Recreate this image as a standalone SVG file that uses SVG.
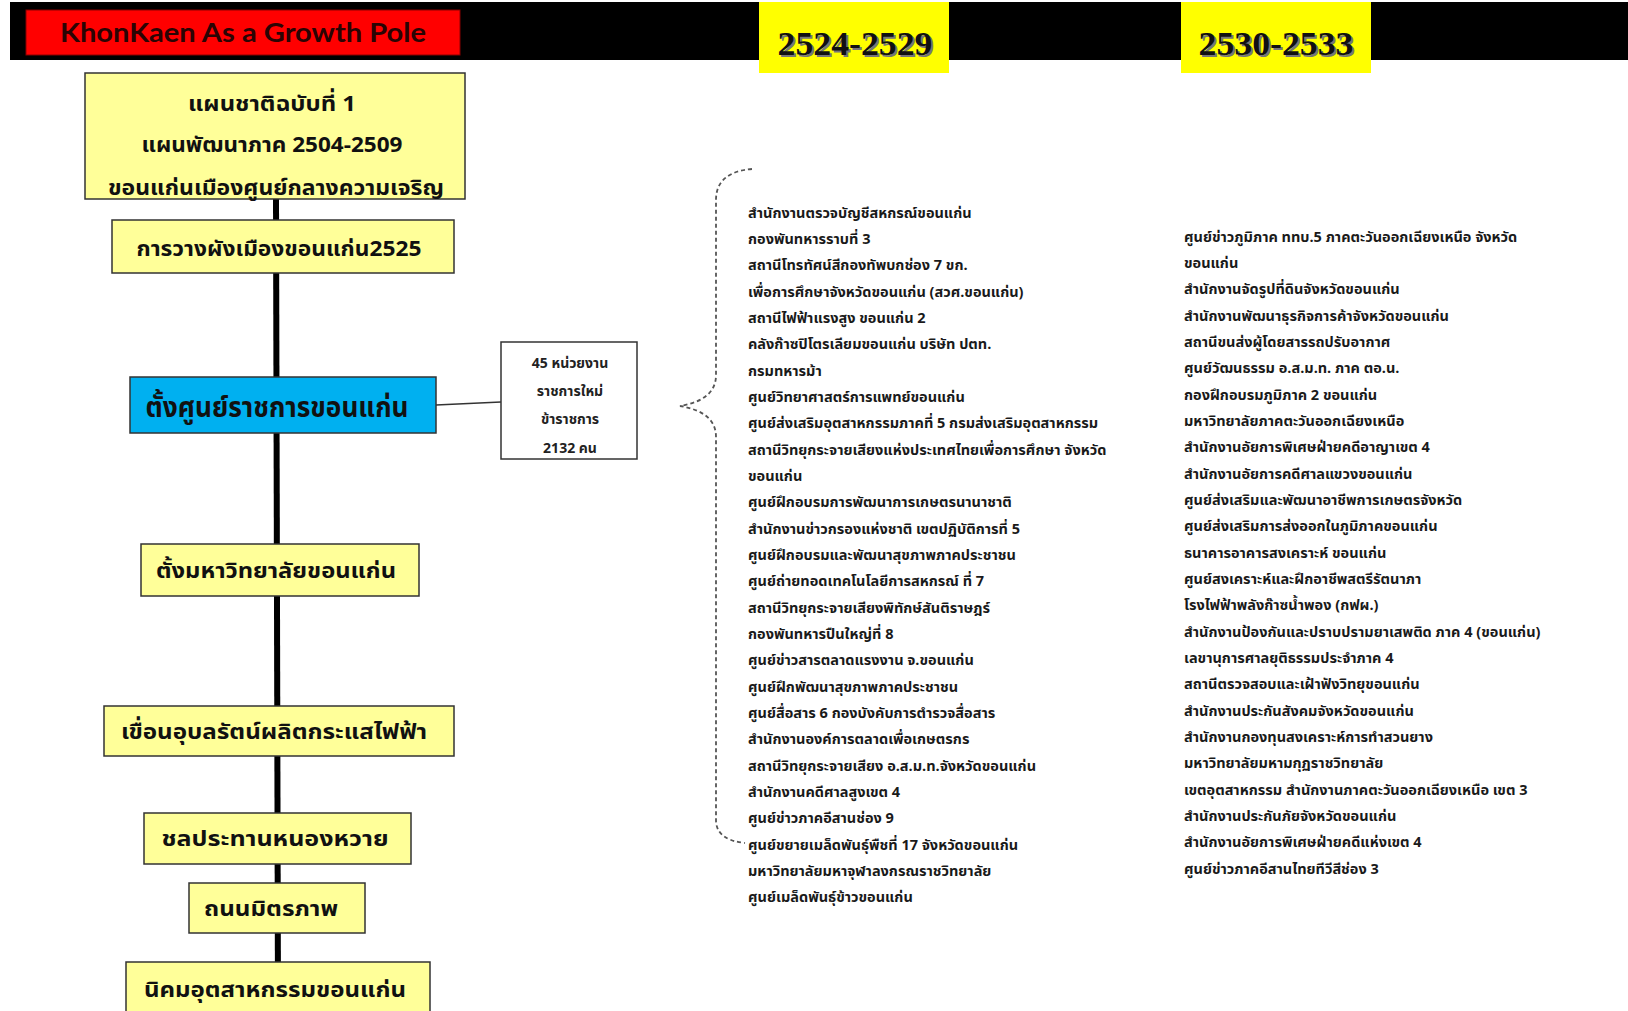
<svg xmlns="http://www.w3.org/2000/svg" width="1628" height="1011" viewBox="0 0 1628 1011">
<style>
.box{fill:#ffff99;stroke:#333;stroke-width:1.5}
.blue{fill:#00b0f0;stroke:#333;stroke-width:1.5}
.side{fill:#fff;stroke:#333;stroke-width:1.5}
.bt{font-family:"Noto Sans Thai","Noto Serif Thai","Liberation Serif",serif;font-weight:bold;font-size:22px;fill:#111;text-anchor:middle}
.st{font-family:"Noto Sans Thai","Liberation Serif",serif;font-weight:bold;font-size:14px;fill:#222;text-anchor:middle}
.lt{font-family:"Noto Sans Thai","Liberation Sans",sans-serif;font-weight:bold;font-size:14.5px;fill:#1a1a1a}
.yr{font-family:"Liberation Serif",serif;font-weight:bold;font-size:34px;text-anchor:middle}
</style>
<rect x="10" y="2" width="1618" height="58" fill="#000"/>
<g id="title">
<rect x="26" y="10" width="434" height="45" fill="#ff0000" stroke="#800" stroke-width="1"/>
<text x="243" y="42" font-family="Lato,'Open Sans',sans-serif" font-size="26" font-weight="bold" fill="#2a0404" text-anchor="middle" textLength="366" lengthAdjust="spacingAndGlyphs">KhonKaen As a Growth Pole</text>
</g>
<g id="year1">
<rect x="759" y="2" width="190" height="71" fill="#ffff00"/>
<text class="yr" x="857" y="57" fill="#777" textLength="155" lengthAdjust="spacingAndGlyphs">2524-2529</text>
<text class="yr" x="855" y="55" fill="#111" textLength="155" lengthAdjust="spacingAndGlyphs">2524-2529</text>
</g>
<g id="year2">
<rect x="1181" y="2" width="190" height="71" fill="#ffff00"/>
<text class="yr" x="1278" y="57" fill="#777" textLength="155" lengthAdjust="spacingAndGlyphs">2530-2533</text>
<text class="yr" x="1276" y="55" fill="#111" textLength="155" lengthAdjust="spacingAndGlyphs">2530-2533</text>
</g>
<g id="connectors">
<line x1="276" y1="199" x2="278" y2="1011" stroke="#000" stroke-width="6"/>
<line x1="436" y1="405" x2="501" y2="402" stroke="#333" stroke-width="1.5"/>
<path d="M752,169 Q716,172 716,200 L716,375 Q716,400 680,406 Q716,412 716,437 L716,820 Q716,840 745,843" fill="none" stroke="#555" stroke-width="1.8" stroke-dasharray="4,3"/>
</g>
<g id="n1">
<rect class="box" x="85" y="73" width="380" height="126"/>
<text class="bt" x="272" y="111" textLength="168" lengthAdjust="spacingAndGlyphs">แผนชาติฉบับที่ 1</text>
<text class="bt" x="272" y="152" textLength="261" lengthAdjust="spacingAndGlyphs">แผนพัฒนาภาค 2504-2509</text>
<text class="bt" x="276" y="195" textLength="336" lengthAdjust="spacingAndGlyphs">ขอนแก่นเมืองศูนย์กลางความเจริญ</text>
</g>
<g id="n2">
<rect class="box" x="112" y="220" width="342" height="53"/>
<text class="bt" x="279" y="256" textLength="285" lengthAdjust="spacingAndGlyphs">การวางผังเมืองขอนแก่น2525</text>
</g>
<g id="n3">
<rect class="blue" x="130" y="377" width="306" height="56"/>
<text class="bt" x="277" y="417" style="font-size:28px" textLength="263" lengthAdjust="spacingAndGlyphs">ตั้งศูนย์ราชการขอนแก่น</text>
</g>
<g id="n3side">
<rect class="side" x="501" y="342" width="136" height="117"/>
<text class="st" x="570" y="368">45 หน่วยงาน</text>
<text class="st" x="570" y="396">ราชการใหม่</text>
<text class="st" x="570" y="424">ข้าราชการ</text>
<text class="st" x="570" y="453">2132 คน</text>
</g>
<g id="n4">
<rect class="box" x="141" y="544" width="278" height="52"/>
<text class="bt" x="276" y="578" textLength="240" lengthAdjust="spacingAndGlyphs">ตั้งมหาวิทยาลัยขอนแก่น</text>
</g>
<g id="n5">
<rect class="box" x="104" y="706" width="350" height="50"/>
<text class="bt" x="274" y="739" textLength="306" lengthAdjust="spacingAndGlyphs">เขื่อนอุบลรัตน์ผลิตกระแสไฟฟ้า</text>
</g>
<g id="n6">
<rect class="box" x="144" y="813" width="267" height="51"/>
<text class="bt" x="275" y="846" textLength="227" lengthAdjust="spacingAndGlyphs">ชลประทานหนองหวาย</text>
</g>
<g id="n7">
<rect class="box" x="189" y="883" width="176" height="50"/>
<text class="bt" x="271" y="916" textLength="134" lengthAdjust="spacingAndGlyphs">ถนนมิตรภาพ</text>
</g>
<g id="n8">
<rect class="box" x="126" y="962" width="304" height="60"/>
<text class="bt" x="275" y="997" textLength="262" lengthAdjust="spacingAndGlyphs">นิคมอุตสาหกรรมขอนแก่น</text>
</g>
<g id="list1">
<text class="lt" x="748" y="218">สำนักงานตรวจบัญชีสหกรณ์ขอนแก่น</text>
<text class="lt" x="748" y="244">กองพันทหารราบที่ 3</text>
<text class="lt" x="748" y="270">สถานีโทรทัศน์สีกองทัพบกช่อง 7 ขก.</text>
<text class="lt" x="748" y="297">เพื่อการศึกษาจังหวัดขอนแก่น (สวศ.ขอนแก่น)</text>
<text class="lt" x="748" y="323">สถานีไฟฟ้าแรงสูง ขอนแก่น 2</text>
<text class="lt" x="748" y="349">คลังก๊าซปิโตรเลียมขอนแก่น บริษัท ปตท.</text>
<text class="lt" x="748" y="376">กรมทหารม้า</text>
<text class="lt" x="748" y="402">ศูนย์วิทยาศาสตร์การแพทย์ขอนแก่น</text>
<text class="lt" x="748" y="428">ศูนย์ส่งเสริมอุตสาหกรรมภาคที่ 5 กรมส่งเสริมอุตสาหกรรม</text>
<text class="lt" x="748" y="455">สถานีวิทยุกระจายเสียงแห่งประเทศไทยเพื่อการศึกษา จังหวัด</text>
<text class="lt" x="748" y="481">ขอนแก่น</text>
<text class="lt" x="748" y="507">ศูนย์ฝึกอบรมการพัฒนาการเกษตรนานาชาติ</text>
<text class="lt" x="748" y="534">สำนักงานข่าวกรองแห่งชาติ เขตปฏิบัติการที่ 5</text>
<text class="lt" x="748" y="560">ศูนย์ฝึกอบรมและพัฒนาสุขภาพภาคประชาชน</text>
<text class="lt" x="748" y="586">ศูนย์ถ่ายทอดเทคโนโลยีการสหกรณ์ ที่ 7</text>
<text class="lt" x="748" y="613">สถานีวิทยุกระจายเสียงพิทักษ์สันติราษฎร์</text>
<text class="lt" x="748" y="639">กองพันทหารปืนใหญ่ที่ 8</text>
<text class="lt" x="748" y="665">ศูนย์ข่าวสารตลาดแรงงาน จ.ขอนแก่น</text>
<text class="lt" x="748" y="692">ศูนย์ฝึกพัฒนาสุขภาพภาคประชาชน</text>
<text class="lt" x="748" y="718">ศูนย์สื่อสาร 6 กองบังคับการตำรวจสื่อสาร</text>
<text class="lt" x="748" y="744">สำนักงานองค์การตลาดเพื่อเกษตรกร</text>
<text class="lt" x="748" y="771">สถานีวิทยุกระจายเสียง อ.ส.ม.ท.จังหวัดขอนแก่น</text>
<text class="lt" x="748" y="797">สำนักงานคดีศาลสูงเขต 4</text>
<text class="lt" x="748" y="823">ศูนย์ข่าวภาคอีสานช่อง 9</text>
<text class="lt" x="748" y="850">ศูนย์ขยายเมล็ดพันธุ์พืชที่ 17 จังหวัดขอนแก่น</text>
<text class="lt" x="748" y="876">มหาวิทยาลัยมหาจุฬาลงกรณราชวิทยาลัย</text>
<text class="lt" x="748" y="902">ศูนย์เมล็ดพันธุ์ข้าวขอนแก่น</text>
</g>
<g id="list2">
<text class="lt" x="1184" y="242">ศูนย์ข่าวภูมิภาค ททบ.5 ภาคตะวันออกเฉียงเหนือ จังหวัด</text>
<text class="lt" x="1184" y="268">ขอนแก่น</text>
<text class="lt" x="1184" y="294">สำนักงานจัดรูปที่ดินจังหวัดขอนแก่น</text>
<text class="lt" x="1184" y="321">สำนักงานพัฒนาธุรกิจการค้าจังหวัดขอนแก่น</text>
<text class="lt" x="1184" y="347">สถานีขนส่งผู้โดยสารรถปรับอากาศ</text>
<text class="lt" x="1184" y="373">ศูนย์วัฒนธรรม อ.ส.ม.ท. ภาค ตอ.น.</text>
<text class="lt" x="1184" y="400">กองฝึกอบรมภูมิภาค 2 ขอนแก่น</text>
<text class="lt" x="1184" y="426">มหาวิทยาลัยภาคตะวันออกเฉียงเหนือ</text>
<text class="lt" x="1184" y="452">สำนักงานอัยการพิเศษฝ่ายคดีอาญาเขต 4</text>
<text class="lt" x="1184" y="479">สำนักงานอัยการคดีศาลแขวงขอนแก่น</text>
<text class="lt" x="1184" y="505">ศูนย์ส่งเสริมและพัฒนาอาชีพการเกษตรจังหวัด</text>
<text class="lt" x="1184" y="531">ศูนย์ส่งเสริมการส่งออกในภูมิภาคขอนแก่น</text>
<text class="lt" x="1184" y="558">ธนาคารอาคารสงเคราะห์ ขอนแก่น</text>
<text class="lt" x="1184" y="584">ศูนย์สงเคราะห์และฝึกอาชีพสตรีรัตนาภา</text>
<text class="lt" x="1184" y="610">โรงไฟฟ้าพลังก๊าซน้ำพอง (กฟผ.)</text>
<text class="lt" x="1184" y="637">สำนักงานป้องกันและปราบปรามยาเสพติด ภาค 4 (ขอนแก่น)</text>
<text class="lt" x="1184" y="663">เลขานุการศาลยุติธรรมประจำภาค 4</text>
<text class="lt" x="1184" y="689">สถานีตรวจสอบและเฝ้าฟังวิทยุขอนแก่น</text>
<text class="lt" x="1184" y="716">สำนักงานประกันสังคมจังหวัดขอนแก่น</text>
<text class="lt" x="1184" y="742">สำนักงานกองทุนสงเคราะห์การทำสวนยาง</text>
<text class="lt" x="1184" y="768">มหาวิทยาลัยมหามกุฏราชวิทยาลัย</text>
<text class="lt" x="1184" y="795">เขตอุตสาหกรรม สำนักงานภาคตะวันออกเฉียงเหนือ เขต 3</text>
<text class="lt" x="1184" y="821">สำนักงานประกันภัยจังหวัดขอนแก่น</text>
<text class="lt" x="1184" y="847">สำนักงานอัยการพิเศษฝ่ายคดีแห่งเขต 4</text>
<text class="lt" x="1184" y="874">ศูนย์ข่าวภาคอีสานไทยทีวีสีช่อง 3</text>
</g>
</svg>
